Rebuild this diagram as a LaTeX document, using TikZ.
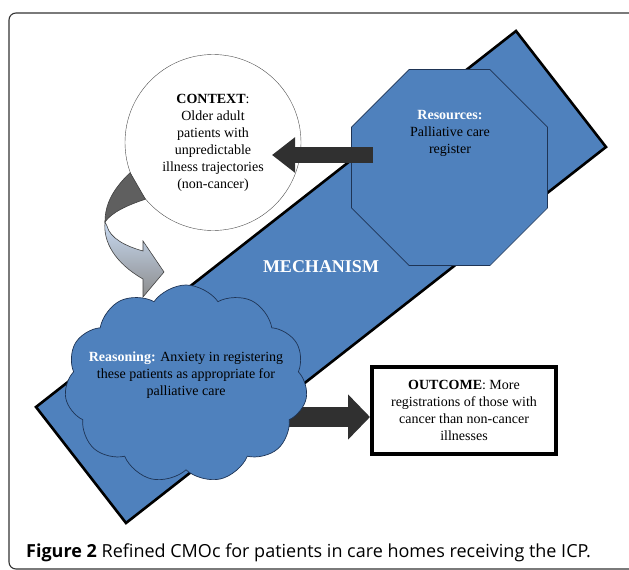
\documentclass[tikz,border=0pt]{standalone}
\usepackage{fontspec}
\setmainfont{Liberation Serif}
\newfontfamily\capfont{Open Sans}
\usetikzlibrary{shapes.geometric,shapes.symbols,arrows.meta}
\definecolor{mechblue}{RGB}{79,129,189}
\definecolor{edgeblue}{RGB}{30,52,85}
\definecolor{arrowgray}{RGB}{48,48,48}
\definecolor{twistgray}{RGB}{95,95,95}
\definecolor{paleblue}{RGB}{200,218,242}
\tikzset{
  blocktext/.style={align=center,font=\fontsize{14}{17}\selectfont,inner sep=0pt},
  blockarrow/.style={draw=arrowgray},
  shapeedge/.style={draw=edgeblue,line width=0.7pt,fill=mechblue}
}

\begin{document}
\begin{tikzpicture}[x=1pt,y=-1pt]
\useasboundingbox (0,0) rectangle (629,570);
\begin{scope}
\clip (0,0) rectangle (629,570);
\draw[rounded corners=7pt,draw=black!80,line width=1.1pt] (9,13) rectangle (660,569);
\end{scope}
\draw[fill=mechblue,line width=2.6pt,line join=miter] (516,31) -- (606,147) -- (126,523) -- (36,407) -- cycle;
\node[regular polygon,regular polygon sides=8,minimum size=212pt,inner sep=0pt,shapeedge] (resources) at (449.5,167.5) {};
\node[circle,draw=black!70,fill=white,minimum size=176pt,blocktext] (context) at (213,142.5) {\textbf{CONTEXT}:\\Older adult\\patients with\\unpredictable\\illness trajectories\\(non-cancer)};
\fill[twistgray,draw=black!75,line width=0.6pt] (context.200) .. controls (112,190) and (105,205) .. (105,222) .. controls (112,212) and (128,205) .. (context.220) -- cycle;
\path[top color=paleblue,bottom color=black!45,draw=black!75,line width=0.6pt] (105,222) .. controls (103,242) and (115,263) .. (143,279) -- (143,297) -- (164,272) -- (143,241) -- (143,251) .. controls (125,246) and (110,238) .. (107,226) -- cycle;
\coordinate (resTail) at (373,155);
\coordinate (ctxTip) at (272,155);
\draw[blockarrow,line width=16pt,-{Triangle[length=23pt,width=34pt]}] (resTail) -- (ctxTip);
\coordinate (reaTail) at (275,417);
\node[draw,line width=4pt,minimum width=184pt,minimum height=87pt,fill=white,blocktext] (outcome) at (464,410.5) {\textbf{OUTCOME}: More\\registrations of those with\\cancer than non-cancer\\illnesses};
\draw[blockarrow,line width=20pt,-{Triangle[length=22pt,width=44pt]}] (reaTail) -- (outcome.west |- reaTail);
\node[cloud,cloud puffs=11,cloud puff arc=110,aspect=1.23,minimum width=243pt,minimum height=198pt,inner sep=0pt,shapeedge] (reasoning) at (186,384) {};
\node[blocktext] (reasonText) at (186,375) {\textcolor{white}{\textbf{Reasoning:}} Anxiety in registering\\these patients as appropriate for\\palliative care};
\node[blocktext] (resText) at (450,133) {\textcolor{white}{\textbf{Resources:}}\\Palliative care\\register};
\node[text=white,font=\fontsize{18}{18}\selectfont\bfseries] (mechanism) at (321,267) {MECHANISM};
\node[anchor=base west,inner sep=0pt,font=\capfont\fontsize{18}{20}\selectfont] (caption) at (26,557) {\textbf{Figure 2} Refined CMOc for patients in care homes receiving the ICP.};
\end{tikzpicture}
\end{document}
